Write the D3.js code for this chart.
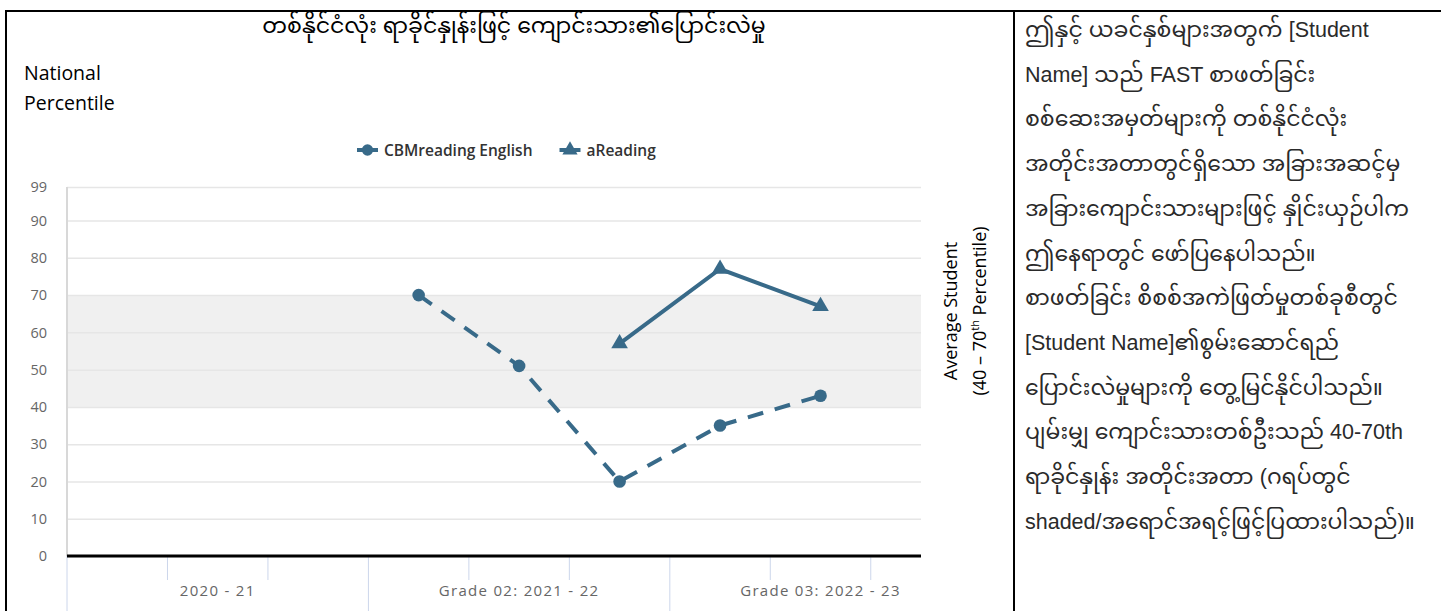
<!DOCTYPE html>
<html>
<head>
<meta charset="utf-8">
<script src="https://cdn.jsdelivr.net/npm/d3@7"></script>
<style>
  body { margin: 0; background: #fff; }
  #chart svg { display: block; }
</style>
</head>
<body>
<div id="chart"></div>
<script>
const title = 'တစ်နိုင်ငံလုံး ရာခိုင်နှုန်းဖြင့် ကျောင်းသား၏ပြောင်းလဲမှု';
const categories = ['2020 - 21', 'Grade 02: 2021 - 22', 'Grade 03: 2022 - 23'];
const slotsPerCategory = 3;
const yTicks = [0, 10, 20, 30, 40, 50, 60, 70, 80, 90, 99];
const averageBand = [40, 70];

const cbmSlots = [3, 4, 5, 6, 7];
const cbmValues = [70, 51, 20, 35, 43];
const aReadingSlots = [5, 6, 7];
const aReadingValues = [57, 77, 67];

const seriesNames = ['CBMreading English', 'aReading'];

const noteLines = [
  'ဤနှင့် ယခင်နှစ်များအတွက် [Student',
  'Name] သည် FAST စာဖတ်ခြင်း',
  'စစ်ဆေးအမှတ်များကို တစ်နိုင်ငံလုံး',
  'အတိုင်းအတာတွင်ရှိသော အခြားအဆင့်မှ',
  'အခြားကျောင်းသားများဖြင့် နှိုင်းယှဉ်ပါက',
  'ဤနေရာတွင် ဖော်ပြနေပါသည်။',
  'စာဖတ်ခြင်း စိစစ်အကဲဖြတ်မှုတစ်ခုစီတွင်',
  '[Student Name]၏စွမ်းဆောင်ရည်',
  'ပြောင်းလဲမှုများကို တွေ့မြင်နိုင်ပါသည်။',
  'ပျမ်းမျှ ကျောင်းသားတစ်ဦးသည် 40-70th',
  'ရာခိုင်နှုန်း အတိုင်းအတာ (ဂရပ်တွင်',
  'shaded/အရောင်အရင့်ဖြင့်ပြထားပါသည်)။'
];

const width = 1441, height = 611;
const plot = { left: 67, right: 921, top: 187, bottom: 556 };
const color = '#386a89';
const labelFont = '"Open Sans", "DejaVu Sans", sans-serif';
const myFont = '"Liberation Sans", "Noto Sans Myanmar", "Myanmar Text", "Padauk", Arial, sans-serif';

// split a line into myanmar / latin runs so each can get its own size
function scriptRuns(str) {
  const out = [];
  for (const ch of str) {
    let my = /[\u1000-\u109F]/.test(ch);
    if (ch == ' ' && out.length) my = out[out.length - 1].my;
    if (out.length && out[out.length - 1].my == my) out[out.length - 1].t += ch;
    else out.push({ my: my, t: ch });
  }
  return out;
}

function mixedText(sel, str, latinSize, myanmarSize) {
  scriptRuns(str).forEach(r => {
    sel.append('tspan')
      .style('font-size', (r.my ? myanmarSize : latinSize) + 'px')
      .text(r.t);
  });
}

const svg = d3.select('#chart')
  .append('svg')
  .attr('width', width)
  .attr('height', height);

// table borders
svg.append('line').attr('x1', 5).attr('x2', width).attr('y1', 11).attr('y2', 11)
  .attr('stroke', '#000').attr('stroke-width', 2);
svg.append('line').attr('x1', 6).attr('x2', 6).attr('y1', 10).attr('y2', height)
  .attr('stroke', '#000').attr('stroke-width', 2);
svg.append('line').attr('x1', 1014).attr('x2', 1014).attr('y1', 10).attr('y2', height)
  .attr('stroke', '#000').attr('stroke-width', 2);

const nSlots = categories.length * slotsPerCategory;
const xScale = d3.scaleLinear()
  .domain([-0.5, nSlots - 1])
  .range([plot.left, plot.right]);

const yScale = d3.scaleLinear()
  .domain([0, 99])
  .range([plot.bottom, plot.top]);

// shaded average band
svg.append('rect')
  .attr('x', plot.left)
  .attr('y', yScale(averageBand[1]))
  .attr('width', plot.right - plot.left)
  .attr('height', yScale(averageBand[0]) - yScale(averageBand[1]))
  .attr('fill', '#f0f0f0');

// grid + y axis
const yAxis = d3.axisLeft(yScale)
  .tickValues(yTicks)
  .tickSize(-(plot.right - plot.left))
  .tickPadding(20);

const gy = svg.append('g')
  .attr('transform', `translate(${plot.left},0)`)
  .call(yAxis);
gy.select('.domain').remove();
gy.selectAll('.tick line').attr('stroke', '#e6e6e6').attr('stroke-width', 1.5);
gy.selectAll('.tick text')
  .attr('fill', '#666')
  .style('font-family', labelFont)
  .style('font-size', '14.5px');

svg.append('line')
  .attr('x1', plot.left).attr('x2', plot.left)
  .attr('y1', plot.top).attr('y2', plot.bottom)
  .attr('stroke', '#d8d8d8').attr('stroke-width', 2);

// x axis ticks
const majorTicks = d3.range(categories.length).map(i => i * slotsPerCategory - 0.5);
const minorTicks = d3.range(nSlots).map(i => i + 0.5)
  .filter(v => (v + 0.5) % slotsPerCategory != 0 && v < nSlots - 1);

svg.selectAll('.major-tick')
  .data(majorTicks)
  .enter()
  .append('line')
  .attr('x1', d => xScale(d)).attr('x2', d => xScale(d))
  .attr('y1', plot.bottom).attr('y2', height)
  .attr('stroke', '#ccd6eb').attr('stroke-width', 1);

svg.selectAll('.minor-tick')
  .data(minorTicks)
  .enter()
  .append('line')
  .attr('x1', d => xScale(d)).attr('x2', d => xScale(d))
  .attr('y1', plot.bottom).attr('y2', plot.bottom + 24)
  .attr('stroke', '#ccd6eb').attr('stroke-width', 1);

svg.selectAll('.cat-label')
  .data(categories)
  .enter()
  .append('text')
  .attr('x', (d, i) => xScale(i * slotsPerCategory + (slotsPerCategory - 1) / 2))
  .attr('y', 596)
  .attr('text-anchor', 'middle')
  .attr('fill', '#666')
  .style('font-family', labelFont)
  .style('font-size', '15px')
  .style('letter-spacing', '1.3px')
  .text(d => d);

svg.append('line')
  .attr('x1', plot.left).attr('x2', plot.right)
  .attr('y1', plot.bottom).attr('y2', plot.bottom)
  .attr('stroke', '#000').attr('stroke-width', 3);

// series
const cbmData = cbmSlots.map((s, i) => [s, cbmValues[i]]);
const aReadingData = aReadingSlots.map((s, i) => [s, aReadingValues[i]]);

const line = d3.line()
  .x(d => xScale(d[0]))
  .y(d => yScale(d[1]));

svg.append('path')
  .datum(cbmData)
  .attr('d', line)
  .attr('fill', 'none')
  .attr('stroke', color)
  .attr('stroke-width', 4)
  .attr('stroke-dasharray', '16,12');

svg.append('path')
  .datum(aReadingData)
  .attr('d', line)
  .attr('fill', 'none')
  .attr('stroke', color)
  .attr('stroke-width', 4);

const circle = d3.symbol().type(d3.symbolCircle).size(125);
const triangle = d3.symbol().type(d3.symbolTriangle).size(120);

svg.selectAll('.cbm-dot')
  .data(cbmData)
  .enter()
  .append('path')
  .attr('d', circle)
  .attr('transform', d => `translate(${xScale(d[0])},${yScale(d[1])})`)
  .attr('fill', color);

svg.selectAll('.ar-dot')
  .data(aReadingData)
  .enter()
  .append('path')
  .attr('d', triangle)
  .attr('transform', d => `translate(${xScale(d[0])},${yScale(d[1])})`)
  .attr('fill', color);

// legend
const legend = svg.append('g').attr('transform', 'translate(0,150)');
var lx = 357;
seriesNames.forEach((name, i) => {
  const item = legend.append('g').attr('transform', `translate(${lx},0)`);
  item.append('line')
    .attr('x1', 0).attr('x2', 21).attr('y1', 0).attr('y2', 0)
    .attr('stroke', color).attr('stroke-width', 4);
  item.append('path')
    .attr('d', i == 0 ? d3.symbol().type(d3.symbolCircle).size(100)() : d3.symbol().type(d3.symbolTriangle).size(100)())
    .attr('transform', 'translate(10.5,0)')
    .attr('fill', color);
  const t = item.append('text')
    .attr('x', 27)
    .attr('y', 5.5)
    .attr('fill', '#333')
    .style('font-family', labelFont)
    .style('font-size', '15.5px')
    .style('font-weight', 600)
    .text(name);
  lx += 27 + t.node().getComputedTextLength() + 27;
});

// titles
const tt = svg.append('text')
  .attr('x', 514)
  .attr('y', 33)
  .attr('text-anchor', 'middle')
  .attr('fill', '#000')
  .style('font-family', myFont);
mixedText(tt, title, 20, 22);

svg.append('text')
  .attr('x', 24).attr('y', 80)
  .attr('fill', '#000')
  .style('font-family', labelFont)
  .style('font-size', '19.5px')
  .text('National');
svg.append('text')
  .attr('x', 24).attr('y', 110)
  .attr('fill', '#000')
  .style('font-family', labelFont)
  .style('font-size', '19.5px')
  .text('Percentile');

const side = svg.append('g')
  .attr('transform', 'translate(0,311) rotate(-90)')
  .style('font-family', labelFont)
  .style('font-size', '18px')
  .attr('fill', '#000')
  .attr('text-anchor', 'middle');
side.append('text').attr('x', 0).attr('y', 957).text('Average Student');
const st = side.append('text').attr('x', 0).attr('y', 986);
st.append('tspan').text('(40 – 70');
st.append('tspan').attr('dy', -7).style('font-size', '11px').text('th');
st.append('tspan').attr('dy', 7).text(' Percentile)');

// note text
svg.selectAll('.note')
  .data(noteLines)
  .enter()
  .append('text')
  .attr('x', 1025)
  .attr('y', (d, i) => 37 + i * 44.7)
  .attr('fill', '#2a2a2a')
  .style('font-family', myFont)
  .each(function(d) { mixedText(d3.select(this), d, 21.5, 22); });
</script>
</body>
</html>
